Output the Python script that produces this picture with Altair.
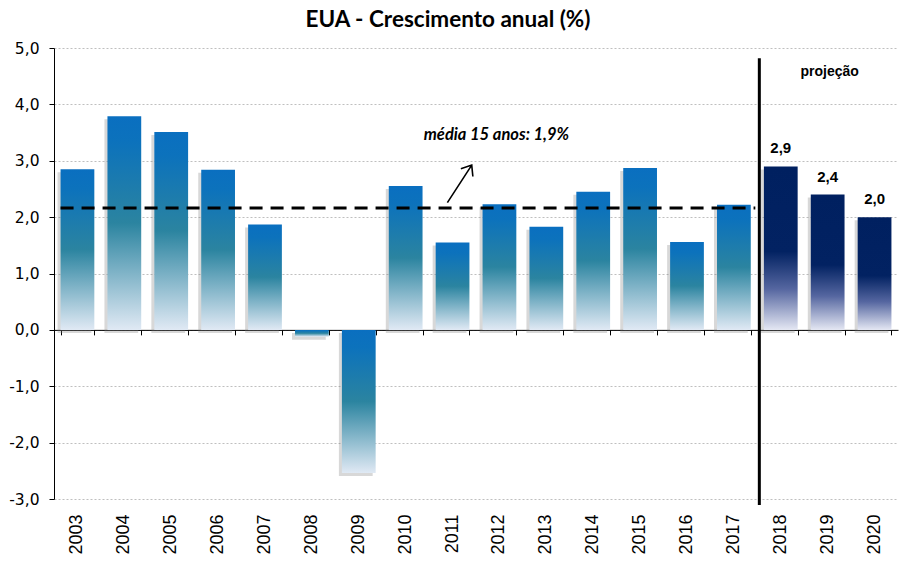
import altair as alt
import pandas as pd

# ---------------- data ----------------
years = [str(y) for y in range(2003, 2021)]
growth = [2.85, 3.79, 3.51, 2.84, 1.87, -0.12, -2.54, 2.55, 1.55, 2.23,
          1.83, 2.45, 2.87, 1.56, 2.22, 2.9, 2.4, 2.0]
status = ["hist"] * 15 + ["proj"] * 3
proj_labels = ["2,9", "2,4", "2,0"]
avg_value = 2.16
avg_text = "média 15 anos: 1,9%"
proj_text = "projeção"
y_ticks = [-3, -2, -1, 0, 1, 2, 3, 4, 5]

df = pd.DataFrame({"year": years, "value": growth, "status": status})
df["label"] = [""] * 15 + proj_labels
hist = df[df.status == "hist"]
proj = df[df.status == "proj"]

avg_df = pd.DataFrame({"x1": ["2003"], "x2": ["2018"], "value": [avg_value]})
split_df = pd.DataFrame({"year": ["2018"], "value": [4.82]})
proj_txt_df = pd.DataFrame({"year": ["2019"], "value": [4.57], "t": [proj_text]})
avg_txt_df = pd.DataFrame({"year": ["2012"], "value": [3.46], "t": [avg_text]})
arrow_df = pd.DataFrame({"year": ["2011"], "value": [2.59]})

# ---------------- layout ----------------
W, H = 844, 451
STEP = W / len(years)
PAD_IN = 0.28
HALF_GAP = STEP * PAD_IN / 2
ZERO_OFFSET = -(H - H * 5 / 8)

x_scale = alt.Scale(domain=years, paddingInner=PAD_IN, paddingOuter=PAD_IN / 2)
y_scale = alt.Scale(domain=[-3, 5], nice=False, zero=False)

y_axis = alt.Axis(
    title=None, values=y_ticks,
    labelExpr="replace(replace(format(datum.value, '.1f'), '.', ','), '\u2212', '-')",
    labelFont="DejaVu Sans", labelFontSize=15.5, labelColor="black", labelPadding=10,
    tickColor="black", tickSize=5, domainColor="black", domainWidth=1,
    grid=True, gridColor="#BFBFBF", gridDash=[2, 2], gridWidth=1,
)
x_axis_labels = alt.Axis(
    title=None, orient="bottom", labelAngle=-90, labelAlign="right",
    labelBaseline="middle", labelFont="Liberation Sans", labelFontSize=18,
    labelColor="black", labelPadding=15, ticks=False, domain=False, grid=False,
)
x_axis_zero = alt.Axis(
    title=None, orient="bottom", labels=False, domain=True, domainColor="black",
    domainWidth=1, ticks=True, tickColor="black", tickSize=5, tickBand="extent",
    offset=ZERO_OFFSET, grid=False,
)

Y = alt.Y("value:Q", scale=y_scale, axis=y_axis)


def XN(field="year", **kw):
    return alt.X(f"{field}:N", scale=x_scale, axis=None, **kw)


blue_grad = alt.Gradient(
    gradient="linear", x1=0, x2=0, y1=0, y2=1,
    stops=[alt.GradientStop(offset=0, color="#0A6FC0"),
           alt.GradientStop(offset=0.12, color="#0C72BC"),
           alt.GradientStop(offset=0.5, color="#2B84A0"),
           alt.GradientStop(offset=1, color="#E0E9F4")],
)
navy_grad = alt.Gradient(
    gradient="linear", x1=0, x2=0, y1=0, y2=1,
    stops=[alt.GradientStop(offset=0, color="#002060"),
           alt.GradientStop(offset=0.52, color="#022262"),
           alt.GradientStop(offset=0.75, color="#5566A0"),
           alt.GradientStop(offset=1, color="#E4E7F3")],
)

shadow = alt.Chart(df).mark_bar(color="#7F7F7F", opacity=0.3, xOffset=-3, yOffset=3).encode(
    x=XN(), y=Y)

bars_hist = alt.Chart(hist).mark_bar(color=blue_grad).encode(
    x=alt.X("year:N", scale=x_scale, axis=x_axis_labels), y=Y)
bars_proj = alt.Chart(proj).mark_bar(color=navy_grad).encode(x=XN(), y=Y)

zero_axis_layer = alt.Chart(df).mark_bar(opacity=0).encode(
    x=alt.X("year:N", scale=x_scale, axis=x_axis_zero), y=Y)

avg_rule = alt.Chart(avg_df).mark_rule(
    color="black", strokeWidth=3, strokeDash=[13, 8], x2Offset=-HALF_GAP - 2
).encode(
    x=XN("x1", bandPosition=0),
    x2=alt.X2("x2:N", bandPosition=0),
    y=Y,
)

split_rule = alt.Chart(split_df).mark_rule(
    color="black", strokeWidth=3, xOffset=-HALF_GAP + 2
).encode(
    x=XN(bandPosition=0),
    y=Y,
    y2=alt.value(H + 6),
)

proj_labels_layer = alt.Chart(proj).mark_text(
    font="Liberation Sans", fontWeight="bold", fontSize=15, color="black",
    dy=-18, baseline="middle"
).encode(x=XN(), y=Y, text="label:N")

proj_txt = alt.Chart(proj_txt_df).mark_text(
    font="Liberation Sans", fontWeight="bold", fontSize=14, color="black",
    xOffset=2, baseline="middle"
).encode(x=XN(), y=Y, text="t:N")

avg_txt = alt.Chart(avg_txt_df).mark_text(
    font="Lato", fontWeight="bold", fontStyle="italic", fontSize=16.5, color="black",
    xOffset=-3, baseline="middle"
).encode(x=XN(), y=Y, text="t:N")

arrow = alt.Chart(arrow_df).mark_point(
    shape="M0,1 L0,-1 M-0.32,-0.6 L0,-1 L0.32,-0.6", size=2000, angle=33,
    filled=False, stroke="black", strokeWidth=1.6, opacity=1, xOffset=7
).encode(x=XN(), y=Y)

chart = alt.layer(
    shadow, bars_hist, bars_proj, zero_axis_layer, avg_rule, split_rule,
    proj_labels_layer, proj_txt, avg_txt, arrow,
).resolve_axis(x="independent").properties(
    width=W, height=H,
    title=alt.TitleParams(
        "EUA - Crescimento anual (%)", font="Lato", fontSize=22.5, fontWeight="bold",
        color="black", anchor="middle", dx=-28, offset=10,
    ),
    autosize=alt.AutoSizeParams(type="none"),
    padding={"left": 46, "top": 40, "right": 13, "bottom": 60},
).configure_view(stroke=None)

chart.save("out.html", embed_options={"renderer": "svg", "actions": False})
